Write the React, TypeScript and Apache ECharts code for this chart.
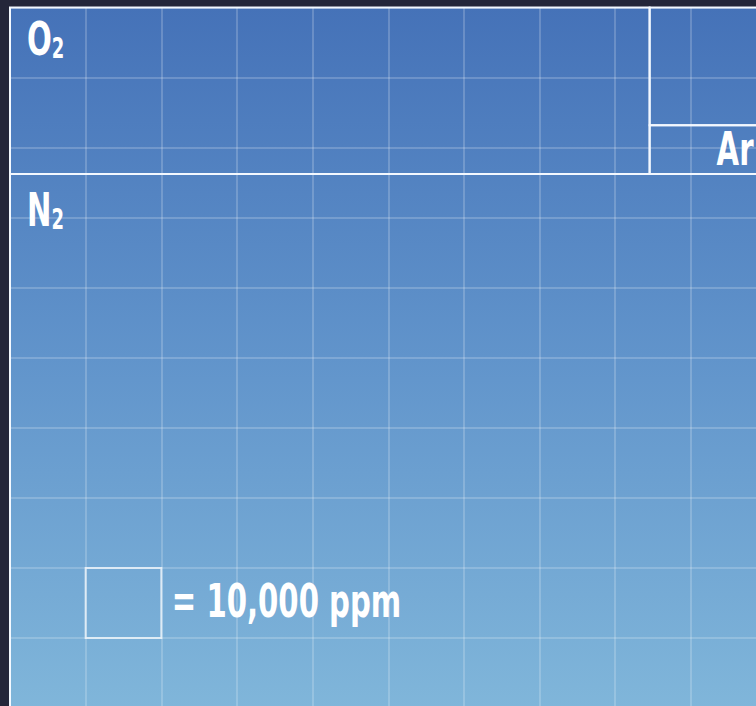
import React, { useEffect, useRef } from "react";
import * as echarts from "echarts";

// Unit grid: 10 x 10 cells, each cell = 10,000 ppm of air
const GRID_COLS = 10;
const GRID_ROWS = 10;

// Gas boxes, in cell units (y counted from the top of the grid)
const boxMain = ["O", "", "Ar", "N"];
const boxSub = ["2", "", "", "2"];
const boxX0 = [0, 8.455, 8.455, 0];
const boxY0 = [0, 0, 1.68, 2.378];
const boxX1 = [8.455, 10, 10, 10];
const boxY1 = [2.378, 1.68, 2.378, 10];

// Legend cell (column, row) and its text
const legendCell = [1, 8];
const legendText = "= 10,000 ppm";

// label placement (pixels from the box's top-left corner)
const labelDX = [17, 0, 67, 17];
const labelDY = [31.5, 0, 24.5, 36];

const FONT = "'DejaVu Sans Condensed', 'DejaVu Sans', sans-serif";
const SCALE_X = 0.69;

export default function App() {
  const ref = useRef<HTMLDivElement>(null);
  useEffect(() => {
    document.body.style.margin = "0";
    document.body.style.overflow = "hidden";
    document.body.style.background = "#24263a";
    const chart = echarts.init(ref.current!, null, { renderer: "svg" });
    const axisCommon = {
      type: "value" as const,
      min: 0,
      interval: 1,
      axisLine: { show: false },
      axisTick: { show: false },
      axisLabel: { show: false },
      splitLine: { show: true, lineStyle: { color: "rgba(255,255,255,0.26)", width: 1.5 } },
    };
    chart.setOption({
      animation: false,
      backgroundColor: "#24263a",
      grid: {
        show: true,
        left: 10,
        top: 7.5,
        width: 756.5,
        height: 700.5,
        borderWidth: 0,
        backgroundColor: new echarts.graphic.LinearGradient(0, 0, 0, 1, [
          { offset: 0, color: "#4572b8" },
          { offset: 0.5, color: "#6194cb" },
          { offset: 1, color: "#80b6da" },
        ]),
      },
      xAxis: { ...axisCommon, max: GRID_COLS },
      yAxis: { ...axisCommon, max: GRID_ROWS, inverse: true },
      series: [
        {
          type: "custom",
          encode: { x: [0, 2], y: [1, 3] },
          data: boxMain.map((_, i) => [boxX0[i], boxY0[i], boxX1[i], boxY1[i]]),
          renderItem: (params: any, api: any) => {
            const i = params.dataIndex;
            const p0 = api.coord([api.value(0), api.value(1)]);
            const p1 = api.coord([api.value(2), api.value(3)]);
            const x = Math.min(p0[0], p1[0]);
            const y = Math.min(p0[1], p1[1]);
            const children: any[] = [
              {
                type: "rect",
                shape: { x, y, width: Math.abs(p1[0] - p0[0]), height: Math.abs(p1[1] - p0[1]) },
                style: { fill: "none", stroke: "#f3f8ff", lineWidth: 2 },
              },
            ];
            if (boxMain[i]) {
              const txt = boxSub[i] ? `{m|${boxMain[i]}}{s|${boxSub[i]}}` : `{m|${boxMain[i]}}`;
              children.push({
                type: "text",
                x: x + labelDX[i],
                y: y + labelDY[i],
                scaleX: SCALE_X,
                style: {
                  text: txt,
                  align: "left",
                  verticalAlign: "middle",
                  rich: {
                    m: { fontSize: 47, fontWeight: "bold", fontFamily: FONT, fill: "#ffffff", lineHeight: 47, verticalAlign: "middle" },
                    s: { fontSize: 29, fontWeight: "bold", fontFamily: FONT, fill: "#ffffff", lineHeight: 14, verticalAlign: "bottom" },
                  },
                },
              });
            }
            return { type: "group", children };
          },
        },
        {
          type: "custom",
          encode: { x: 0, y: 1 },
          data: [legendCell],
          renderItem: (_params: any, api: any) => {
            const c = api.value(0);
            const r = api.value(1);
            const p0 = api.coord([c, r]);
            const p1 = api.coord([c + 1, r + 1]);
            return {
              type: "group",
              children: [
                {
                  type: "rect",
                  shape: { x: p0[0], y: p0[1], width: p1[0] - p0[0], height: p1[1] - p0[1] },
                  style: { fill: "none", stroke: "rgba(255,255,255,0.7)", lineWidth: 2 },
                },
                {
                  type: "text",
                  x: p1[0] + 10.5,
                  y: (p0[1] + p1[1]) / 2 - 1.5,
                  scaleX: SCALE_X,
                  style: {
                    text: legendText,
                    fontSize: 47,
                    fontWeight: "bold",
                    fontFamily: FONT,
                    fill: "#ffffff",
                    align: "left",
                    verticalAlign: "middle",
                  },
                },
              ],
            };
          },
        },
      ],
    });
    return () => chart.dispose();
  }, []);
  return (
    <div style={{ width: 756, height: 706, overflow: "hidden", position: "relative" }}>
      <div ref={ref} style={{ width: 790, height: 720 }} />
    </div>
  );
}
